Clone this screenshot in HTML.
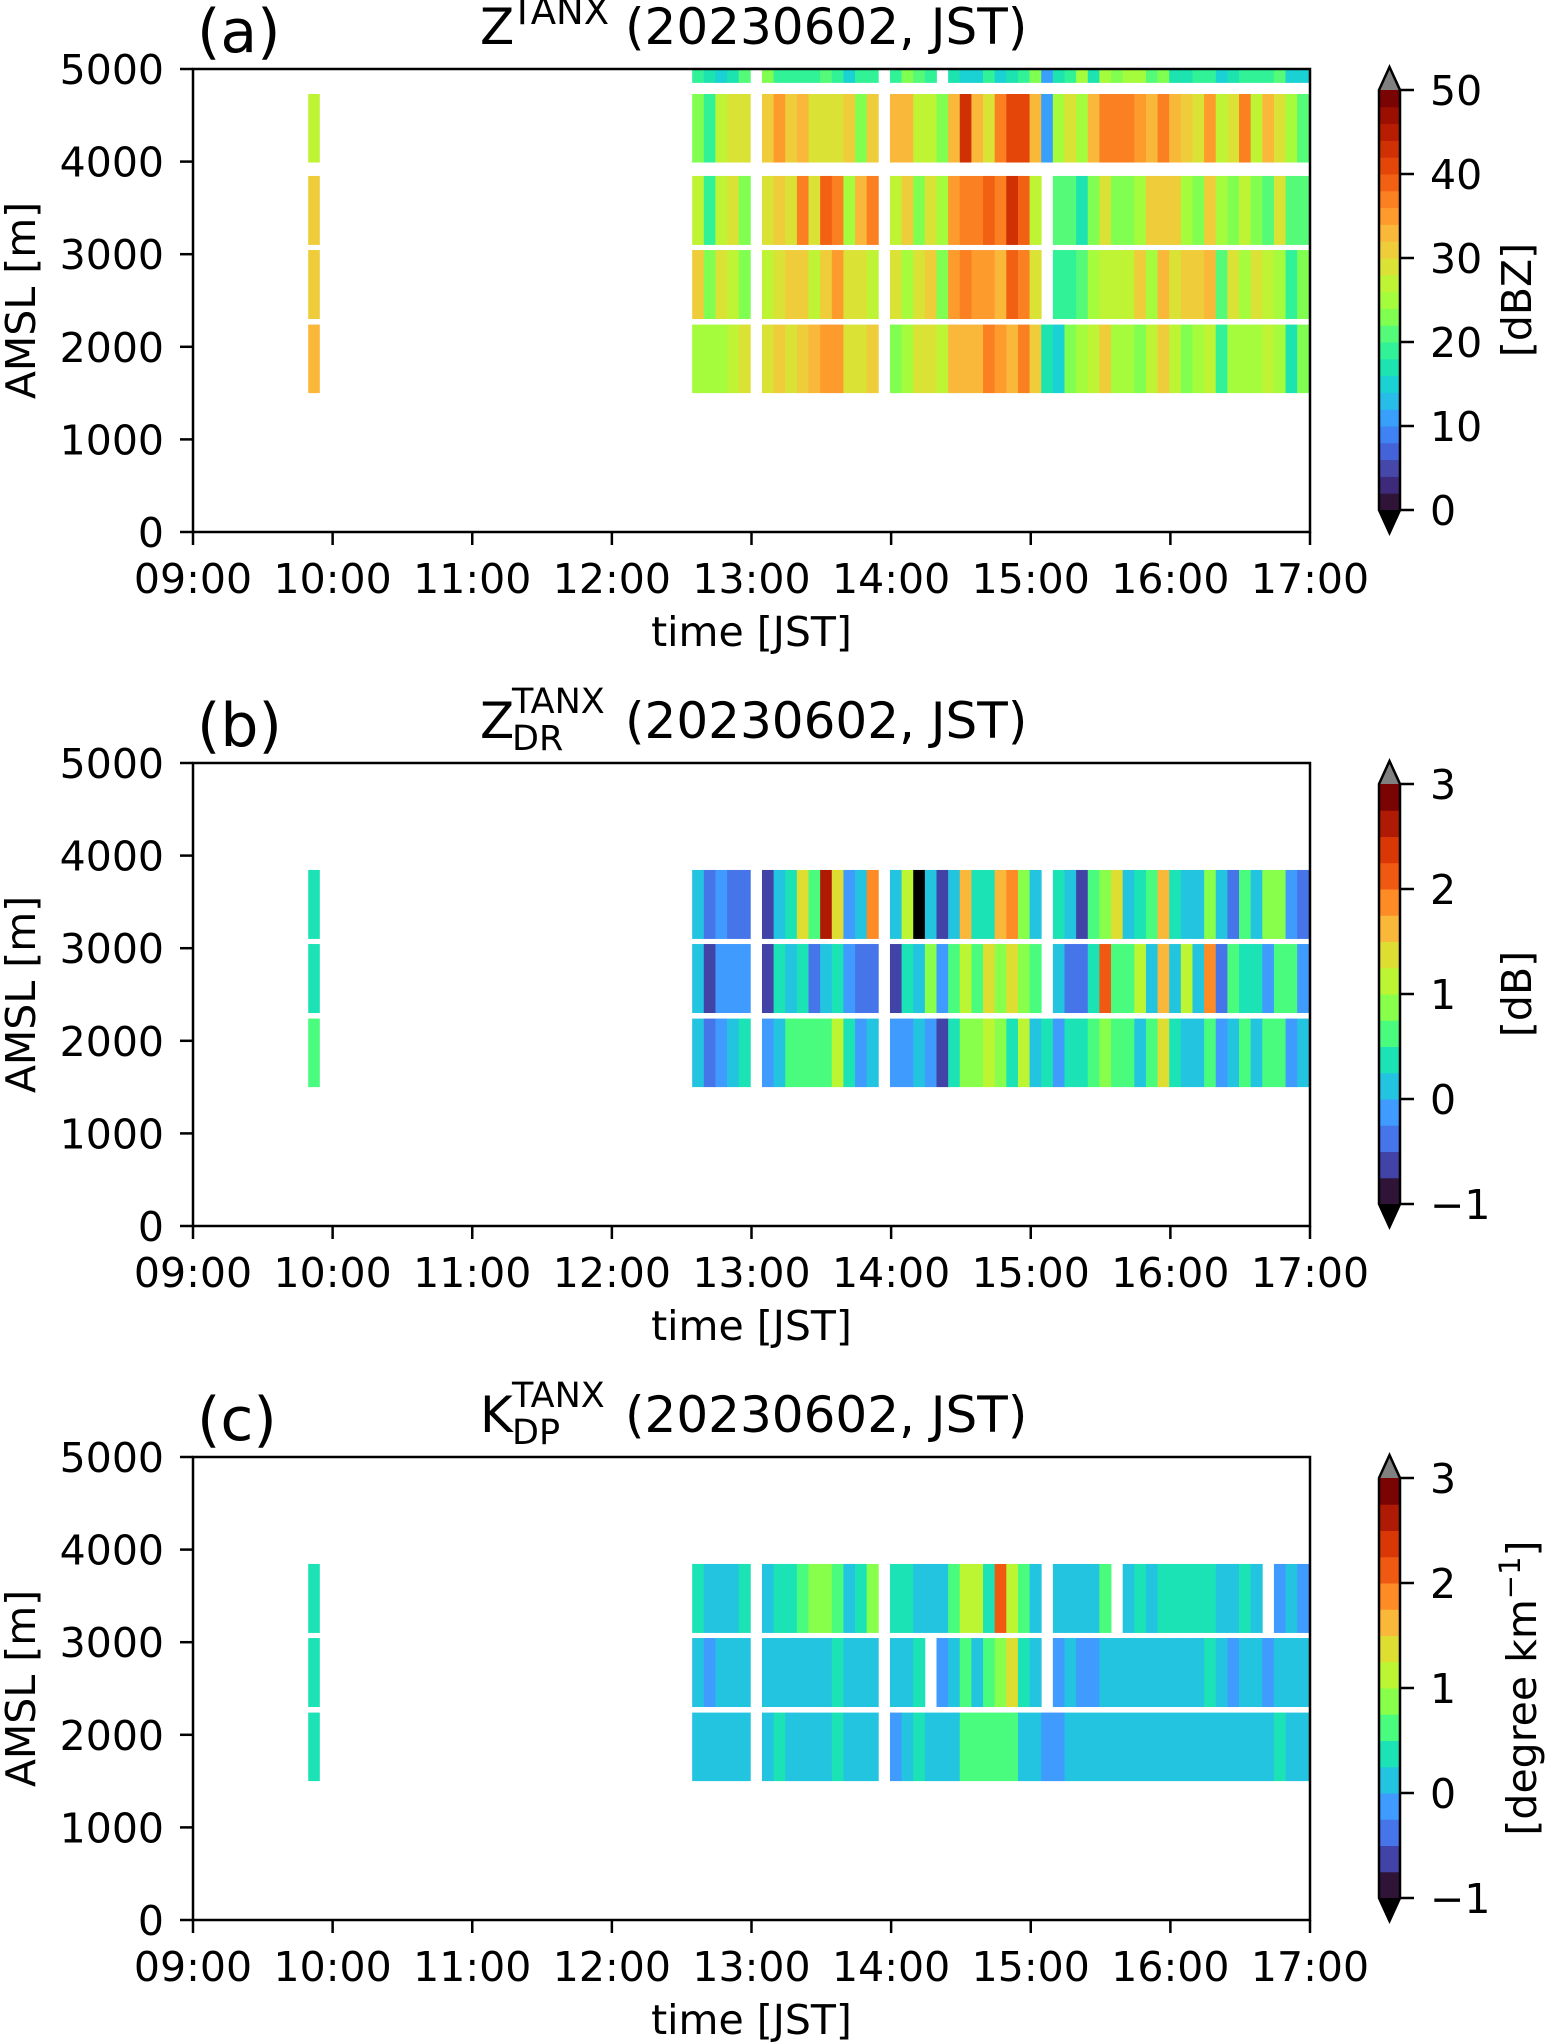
<!DOCTYPE html>
<html><head><meta charset="utf-8"><style>
html,body{margin:0;padding:0;background:#fff;}
svg{display:block;font-family:"DejaVu Sans","Liberation Sans",sans-serif;}
</style></head><body>
<svg id="fig" width="1552" height="2044" viewBox="0 0 1552 2044" xmlns="http://www.w3.org/2000/svg"></svg>
<script>
// ---- shared axis data ----
const xTickLabels = ["09:00","10:00","11:00","12:00","13:00","14:00","15:00","16:00","17:00"];
const yTickValues = [0,1000,2000,3000,4000,5000];
const binStartMin = 214.5;      // minutes after 09:00 of first bin (12:34.5)
const binWidthMin = 5;
const earlyBinStartMin = 49.5;  // single early profile (09:49.5)
const rowBottoms = [1500,2300,3100,3990,4850];
const rowTops = [2240,3045,3845,4730,5000];

// ---- panel (a) Z [dBZ] ----
const zEarly = [33,31,31,27,null];
const zRow1 = [25,25,25,27,29,null,29,31,29,31,33,35,35,29,29,31,null,23,25,29,29,27,33,33,33,37,35,33,37,31,17,15,23,25,27,31,25,25,23,27,31,27,23,25,27,19,25,25,25,27,25,17,23];
const zRow2 = [31,23,29,27,23,null,27,29,31,31,27,31,35,29,29,27,null,29,25,29,31,23,35,37,35,35,33,39,37,29,null,19,19,21,25,27,27,27,31,25,33,29,31,31,33,21,29,25,29,27,25,19,23];
const zRow3 = [27,19,27,29,23,null,29,31,29,37,29,39,37,25,33,37,null,27,31,23,29,25,35,37,37,39,37,43,39,27,null,21,21,17,23,29,23,23,25,31,31,31,25,23,31,25,23,27,23,21,29,21,21];
const zRow4 = [23,19,27,29,29,null,31,35,31,33,29,29,29,31,23,31,null,33,33,27,27,23,33,43,33,29,37,41,41,33,11,25,29,25,33,37,37,37,35,33,37,33,31,29,35,27,29,37,27,33,29,25,21];
const zRow5 = [19,17,15,17,21,null,23,19,19,19,19,21,19,15,19,19,null,19,23,21,19,null,17,15,15,19,15,17,19,23,11,17,19,25,17,25,23,25,25,21,23,17,17,19,19,15,17,19,19,19,21,15,15];
const zTickLabels = ["0","10","20","30","40","50"];

// ---- panel (b) ZDR [dB] ----
const zdrEarly = [0.6,0.4,0.4];
const zdrRow1 = [0.1,-0.4,-0.1,0.1,0.4,null,-0.1,0.1,0.6,0.6,0.6,0.6,1.1,0.4,-0.1,0.1,null,-0.1,-0.1,0.1,-0.1,-0.6,0.4,0.9,0.9,1.1,0.9,0.4,1.1,0.1,0.4,-0.1,0.4,0.4,0.6,0.9,0.6,0.6,0.1,0.6,1.4,0.4,0.1,0.1,0.6,-0.1,0.1,0.6,0.1,0.6,0.6,-0.1,0.1];
const zdrRow2 = [0.1,-0.6,-0.1,-0.1,-0.1,null,-0.6,0.4,0.1,0.4,-0.4,0.1,0.4,-0.1,-0.4,-0.4,null,-0.6,0.4,0.1,0.9,-0.1,0.6,1.1,0.6,1.4,0.9,1.4,0.9,0.6,null,0.1,-0.4,-0.4,0.4,2.1,0.6,0.6,1.1,0.1,1.6,0.1,1.1,0.1,1.9,-0.4,0.6,0.4,0.4,-0.1,0.6,0.6,-0.1];
const zdrRow3 = [0.1,-0.4,-0.1,-0.4,-0.4,null,-0.6,0.1,0.4,1.4,0.6,2.6,1.4,-0.1,0.1,1.9,null,0.1,1.1,-1.2,0.1,-0.6,0.1,1.6,0.4,0.4,1.6,1.9,0.9,0.1,null,0.4,0.1,-0.6,0.6,0.9,1.4,0.1,0.4,0.6,1.6,0.4,0.1,0.1,0.9,0.1,-0.4,0.6,0.1,0.9,0.9,-0.1,-0.4];
const polTickLabels = ["\u22121","0","1","2","3"];

// ---- panel (c) KDP [deg/km] ----
const kdpEarly = [0.4,0.4,0.4];
const kdpRow1 = [0.1,0.1,0.1,0.1,0.1,null,0.1,0.4,0.1,0.1,0.1,0.1,0.4,0.1,0.1,0.1,null,-0.1,0.1,0.4,0.1,0.1,0.1,0.6,0.6,0.6,0.6,0.6,0.1,0.1,-0.1,-0.1,0.1,0.1,0.1,0.1,0.1,0.1,0.1,0.1,0.1,0.1,0.1,0.1,0.1,0.1,0.1,0.1,0.1,0.1,0.4,0.1,0.1];
const kdpRow2 = [0.1,-0.1,0.1,0.1,0.1,null,0.1,0.1,0.1,0.1,0.1,0.1,0.4,0.1,0.1,0.1,null,0.1,0.1,0.4,null,-0.1,0.1,0.6,0.1,0.6,0.9,1.4,0.4,0.1,null,-0.1,0.1,-0.1,-0.1,0.1,0.1,0.1,0.1,0.1,0.1,0.1,0.1,0.1,0.4,0.1,-0.1,0.1,0.1,-0.1,0.1,0.1,0.1];
const kdpRow3 = [0.4,0.1,0.1,0.1,0.4,null,0.1,0.4,0.4,0.6,0.9,0.9,0.6,0.1,0.4,0.9,null,0.4,0.4,0.1,0.1,0.1,0.6,1.1,1.1,0.4,2.1,1.1,0.6,0.1,null,0.1,0.1,0.1,0.1,0.6,null,0.1,0.4,0.1,0.4,0.4,0.4,0.4,0.4,0.1,0.1,0.4,0.1,null,-0.1,0.1,-0.1];

// ---- colormaps (styles) ----
const palZ = ["#2f1438","#3d2a7a","#4548a8","#4463d8","#3e82f3","#38a0fb","#27bde8","#1ad1d4","#1ce3b0","#32f298","#55fa78","#80ff50","#a4fc3c","#bef434","#dae236","#efcd3a","#fab83a","#fe9b2d","#fb8022","#f26014","#e4460a","#cf3004","#b81d02","#9b0f01","#7a0403"];
const palP = ["#2f1438","#4143a7","#4675ea","#3f9bfe","#23c4e0","#1ce3b5","#4afc7e","#88ff4a","#bcf633","#dedd32","#fab83a","#fd8c27","#ef5911","#d93806","#ae1a04","#7a0403"];

const NS = "http://www.w3.org/2000/svg";
const svg = document.getElementById("fig");
function mk(tag, attrs, parent) {
  const e = document.createElementNS(NS, tag);
  for (const k in attrs) e.setAttribute(k, attrs[k]);
  (parent || svg).appendChild(e);
  return e;
}
const AX_L = 193, AX_R = 1310, AX_H = 463;
function xScale(min) { return AX_L + min / 480 * (AX_R - AX_L); }

function colorFor(v, vmin, vmax, pal) {
  if (v < vmin) return "#000000";
  if (v > vmax) return "#808080";
  let i = Math.floor((v - vmin) / (vmax - vmin) * pal.length);
  if (i >= pal.length) i = pal.length - 1;
  if (i < 0) i = 0;
  return pal[i];
}

function drawPanel(off, cfg) {
  const top = 69 + off, bottom = top + AX_H;
  const yScale = m => bottom - m / 5000 * AX_H;
  const g = mk("g", {});
  
  
  const cells = mk("g", {}, g);
  
  
  cfg.rows.forEach((row, r) => {
    row.forEach((v, k) => {
      if (v === null || v === undefined) return;
      const t0 = binStartMin + k * binWidthMin;
      const x0 = xScale(t0), x1 = xScale(t0 + binWidthMin);
      const y0 = yScale(rowTops[r]), y1 = yScale(rowBottoms[r]);
      const c = mk("rect", {x: x0, y: y0, width: x1 - x0 + 0.4, height: y1 - y0, fill: colorFor(v, cfg.vmin, cfg.vmax, cfg.pal)}, cells);
      
      
    });
  });
  cfg.early.forEach((v, r) => {
    if (v === null) return;
    const x0 = xScale(earlyBinStartMin), x1 = xScale(earlyBinStartMin + binWidthMin);
    const c = mk("rect", {x: x0, y: yScale(rowTops[r]), width: x1 - x0, height: yScale(rowBottoms[r]) - yScale(rowTops[r]), fill: colorFor(v, cfg.vmin, cfg.vmax, cfg.pal)}, cells);
    
    
  });
  const fr = mk("rect", {x: AX_L, y: top, width: AX_R - AX_L, height: AX_H, fill: "none", stroke: "#000", "stroke-width": 2.5}, g);
  
  
  xTickLabels.forEach((lab, i) => {
    const x = xScale(i * 60);
    mk("line", {x1: x, y1: bottom, x2: x, y2: bottom + 13, stroke: "#000", "stroke-width": 2.5}, g);
    const t = mk("text", {x: x, y: bottom + 61, "font-size": 41, "text-anchor": "middle"}, g);
    t.textContent = lab;
    
    
  });
  yTickValues.forEach(v => {
    const y = yScale(v);
    mk("line", {x1: AX_L, y1: y, x2: AX_L - 13, y2: y, stroke: "#000", "stroke-width": 2.5}, g);
    const t = mk("text", {x: 164, y: y + 15, "font-size": 41, "text-anchor": "end"}, g);
    t.textContent = String(v);
    
    
  });
  const xl = mk("text", {x: (AX_L + AX_R) / 2, y: bottom + 114, "font-size": 41, "text-anchor": "middle"}, g);
  xl.textContent = "time [JST]";
  
  
  const yl = mk("text", {transform: "translate(35," + (top + AX_H / 2) + ") rotate(-90)", "font-size": 41, "text-anchor": "middle"}, g);
  yl.textContent = "AMSL [m]";
  
  
  const pl = mk("text", {x: 197, y: 52 + off, "font-size": 60}, g);
  pl.textContent = cfg.letter;
  
  
  const tg = mk("g", {}, g);
  
  
  const t1 = mk("text", {x: 480, y: 44 + off, "font-size": 50}, tg); t1.textContent = cfg.sym;
  if (cfg.sub) {
    const ts = mk("text", {x: 512, y: 56 + off, "font-size": 35}, tg); ts.textContent = cfg.sub;
    const tp = mk("text", {x: 512, y: 19 + off, "font-size": 35}, tg); tp.textContent = "TANX";
  } else {
    const tp = mk("text", {x: 511, y: 24 + off, "font-size": 37}, tg); tp.textContent = "TANX";
  }
  const t2 = mk("text", {x: 625, y: 44 + off, "font-size": 50}, tg); t2.textContent = "(20230602, JST)";

  const cb = mk("g", {}, g);
  
  
  const cL = 1379, cR = 1400, cT = 90 + off, cB = 510 + off;
  const n = cfg.pal.length, h = (cB - cT) / n;
  cfg.pal.forEach((c, i) => {
    mk("rect", {x: cL, y: cB - (i + 1) * h, width: cR - cL, height: h + 0.5, fill: c}, cb);
  });
  mk("polygon", {points: `${cL},${cT} ${cR},${cT} ${(cL + cR) / 2},${cT - 23}`, fill: "#808080"}, cb);
  mk("polygon", {points: `${cL},${cB} ${cR},${cB} ${(cL + cR) / 2},${cB + 23}`, fill: "#000"}, cb);
  mk("polygon", {points: `${(cL + cR) / 2},${cT - 23} ${cR},${cT} ${cR},${cB} ${(cL + cR) / 2},${cB + 23} ${cL},${cB} ${cL},${cT}`, fill: "none", stroke: "#000", "stroke-width": 2.5}, cb);
  cfg.cbTicks.forEach((lab, i) => {
    const y = cB - i / (cfg.cbTicks.length - 1) * (cB - cT);
    mk("line", {x1: cR, y1: y, x2: cR + 14, y2: y, stroke: "#000", "stroke-width": 2.5}, cb);
    const t = mk("text", {x: 1430, y: y + 15, "font-size": 41}, cb);
    t.textContent = lab;
    
    
  });
  const cl = mk("text", {transform: `translate(${cfg.cbLabelX},${(cT + cB) / 2}) rotate(-90)`, "font-size": 41, "text-anchor": "middle"}, cb);
  if (cfg.cbSup) {
    cl.appendChild(document.createTextNode(cfg.cbLabel));
    const s = mk("tspan", {"font-size": 29, dy: -16}, cl); s.textContent = cfg.cbSup;
    const e = mk("tspan", {dy: 16}, cl); e.textContent = "]";
  } else cl.textContent = cfg.cbLabel;
  
  
}

drawPanel(0, {name: "reflectivity", letter: "(a)", sym: "Z", sub: null, rows: [zRow1, zRow2, zRow3, zRow4, zRow5], early: zEarly, pal: palZ, vmin: 0, vmax: 50, cbTicks: zTickLabels, cbLabel: "[dBZ]", cbLabelX: 1531});
drawPanel(694, {name: "zdr", letter: "(b)", sym: "Z", sub: "DR", rows: [zdrRow1, zdrRow2, zdrRow3], early: zdrEarly, pal: palP, vmin: -1, vmax: 3, cbTicks: polTickLabels, cbLabel: "[dB]", cbLabelX: 1531});
drawPanel(1388, {name: "kdp", letter: "(c)", sym: "K", sub: "DP", rows: [kdpRow1, kdpRow2, kdpRow3], early: kdpEarly, pal: palP, vmin: -1, vmax: 3, cbTicks: polTickLabels, cbLabel: "[degree km", cbSup: "\u22121", cbLabelX: 1536});
</script>
</body></html>
